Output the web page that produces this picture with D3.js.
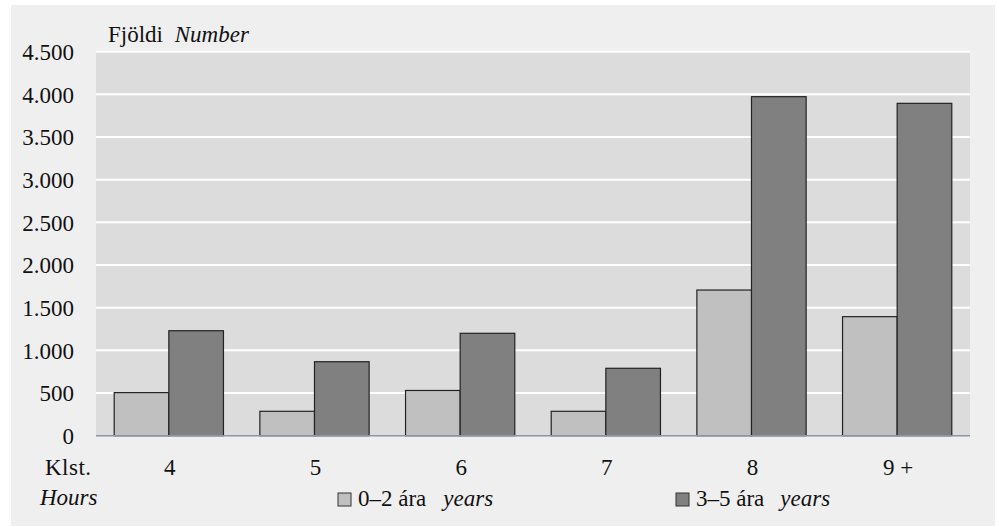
<!DOCTYPE html>
<html><head><meta charset="utf-8">
<script src="https://cdn.jsdelivr.net/npm/d3@7"></script>
<style>
html,body{margin:0;padding:0;background:#fff;}
svg{display:block;}
</style></head>
<body>
<script>
const categories = ["4", "5", "6", "7", "8", "9 +"];
const seriesNames = ["0–2 ára", "3–5 ára"];
const series0to2 = [505, 286, 530, 286, 1707, 1395];
const series3to5 = [1230, 867, 1200, 790, 3973, 3895];
const yTicks = [0, 500, 1000, 1500, 2000, 2500, 3000, 3500, 4000, 4500];

(function () {
const W = 999, H = 527;
const FS = 23;
const FONT = "Liberation Serif, Tinos, Times New Roman, Times, Nimbus Roman, DejaVu Serif, serif";
const svg = d3.select("body").append("svg").attr("width", W).attr("height", H);

// outer background
svg.append("rect").attr("x", 11).attr("y", 5).attr("width", 984).attr("height", 521).attr("fill", "#efefef");

const pLeft = 96, pRight = 970, pTop = 51.7, pBottom = 435.7;
const y = d3.scaleLinear().domain([0, 4500]).range([pBottom, pTop]);
const x = d3.scaleBand().domain(categories).range([pLeft, pRight]).paddingInner(0.25).paddingOuter(0.125);
const xs = d3.scaleBand().domain([0, 1]).range([0, x.bandwidth()]);

// plot background
svg.append("rect").attr("x", pLeft).attr("y", pTop).attr("width", pRight - pLeft).attr("height", pBottom - pTop).attr("fill", "#dcdcdc");

// gridlines
svg.append("g").selectAll("line").data(yTicks.filter(d => d > 0)).join("line")
  .attr("x1", pLeft).attr("x2", pRight)
  .attr("y1", d => y(d)).attr("y2", d => y(d))
  .attr("stroke", "#fff").attr("stroke-width", 2);

// y axis labels
const loc = d3.formatLocale({decimal: ",", thousands: ".", grouping: [3], currency: ["", ""]});
const fmt = loc.format(",");
const yAxis = d3.axisLeft(y).tickValues(yTicks).tickFormat(fmt).tickSize(0).tickPadding(0);
const gy = svg.append("g").attr("transform", "translate(74,0)").call(yAxis);
gy.attr("font-family", FONT).attr("font-size", FS);
gy.select(".domain").remove();
gy.selectAll("text").attr("fill", "#111").attr("dy", "0.34em");

// bars
const data = categories.map((c, i) => ({c, vals: [series0to2[i], series3to5[i]]}));
const colors = ["#c0c0c0", "#808080"];
const g = svg.append("g").selectAll("g").data(data).join("g")
  .attr("transform", d => `translate(${x(d.c)},0)`);
g.selectAll("rect").data(d => d.vals.map((v, k) => ({k, v}))).join("rect")
  .attr("x", d => xs(d.k)).attr("width", xs.bandwidth())
  .attr("y", d => y(d.v)).attr("height", d => y(0) - y(d.v))
  .attr("fill", d => colors[d.k]).attr("stroke", "#222").attr("stroke-width", 1.2);

// baseline
svg.append("line").attr("x1", pLeft).attr("x2", pRight).attr("y1", pBottom).attr("y2", pBottom)
  .attr("stroke", "#8a96a8").attr("stroke-width", 1.5);

// x axis labels
const xAxis = d3.axisBottom(x).tickSize(0).tickPadding(0);
const gx = svg.append("g").attr("transform", "translate(1,475)").call(xAxis);
gx.attr("font-family", FONT).attr("font-size", FS);
gx.select(".domain").remove();
gx.selectAll("text").attr("fill", "#111").attr("dy", 0);

const tg = svg.append("g").attr("font-family", FONT).attr("font-size", FS).attr("fill", "#111");
// axis titles
tg.append("text").attr("x", 45).attr("y", 475).attr("letter-spacing", 0.5).text("Klst.");
tg.append("text").attr("x", 40).attr("y", 505).attr("font-style", "italic").text("Hours");
const t = tg.append("text").attr("x", 108).attr("y", 41.5);
t.append("tspan").text("Fjöldi ");
t.append("tspan").attr("font-style", "italic").attr("dx", 6).text("Number");

// legend
const legX = [338, 676];
const legDx = [17, 16];
seriesNames.forEach((n, k) => {
  svg.append("rect").attr("x", legX[k]).attr("y", 493).attr("width", 13).attr("height", 13)
    .attr("fill", colors[k]).attr("stroke", "#333").attr("stroke-width", 1);
  const lt = tg.append("text").attr("x", legX[k] + 20).attr("y", 506);
  lt.append("tspan").text(n);
  lt.append("tspan").attr("font-style", "italic").attr("dx", legDx[k]).text("years");
});
})();
</script>
</body></html>
